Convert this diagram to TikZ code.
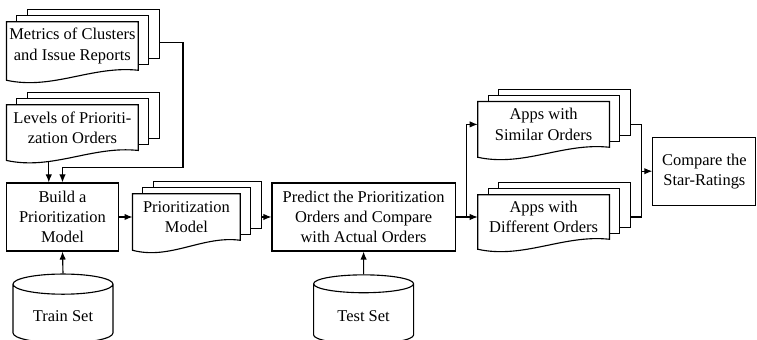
\documentclass[tikz,border=0pt]{standalone}
\usepackage{fontspec}
\setmainfont{Liberation Serif}
\usetikzlibrary{shapes.geometric, arrows.meta, positioning, calc, backgrounds}
\tikzset{
    % Box styles
    process/.style={
        rectangle,
        draw=black,
        fill=white,
        line width=0.8pt,
        minimum width=2.78cm,
        minimum height=1.7cm,
        align=center,
        inner sep=1pt
    },
    docpage/.style={
        rectangle,
        draw=none,
        minimum width=3.28cm,
        minimum height=1.13cm,
        align=center,
        inner sep=1pt
    },
    docline/.style={
        line width=0.8pt,
        draw=black,
        fill=white
    },
    database/.style={
        cylinder,
        shape border rotate=90,
        draw=black,
        line width=0.8pt,
        aspect=0.29,
        minimum width=2.5cm,
        minimum height=1.725cm,
        align=center
    },
    % Arrow styles
    arrow/.style={
        ->,
        >={Latex[length=2mm, width=1.6mm]},
        line width=0.8pt,
        draw=black
    },
    plainline/.style={
        line width=0.8pt,
        draw=black
    }
}
% stack of pages behind a document node, wavy bottom on the front page
\newcommand{\docstack}[1]{%
    \begin{scope}[on background layer]
        \foreach \k in {2,1}
            \draw[docline] ([shift={(\k*0.26,\k*0.15)}]#1.south west) rectangle ([shift={(\k*0.26,\k*0.15)}]#1.north east);
        \draw[docline] (#1.north west) -- (#1.north east) -- (#1.south east)
            .. controls ($(#1.south east)!0.35!(#1.south west)+(0,0.125)$) and ($(#1.south west)!0.35!(#1.south east)+(0,-0.5)$) .. ([yshift=-0.25cm]#1.south west) -- cycle;
    \end{scope}}

\begin{document}
\begin{tikzpicture}[font=\fontsize{11.7}{14.4}\selectfont]
    \useasboundingbox (0,0) rectangle (18.925,8.5);

    % Inputs
    \node[docpage, minimum height=1.2cm] (met) at (1.81,7.35) {Metrics of Clusters\\and Issue Reports};
    \docstack{met}
    \node[docpage] (lev) at (1.81,5.31) {Levels of Prioriti-\\zation Orders};
    \docstack{lev}

    % Training
    \node[process] (build) at (1.5625,3.075) {Build a\\Prioritization\\Model};
    \node[database] (train) at (1.575,0.6) {Train Set};
    \node[docpage, minimum width=2.68cm, minimum height=1.15cm] (prio) at (4.66,3.075) {Prioritization\\Model};
    \docstack{prio}

    % Testing
    \node[process, minimum width=4.58cm] (pred) at (9.09,3.075) {Predict the Prioritization\\Orders and Compare\\with Actual Orders};
    \node[database] (test) at (9.09,0.6) {Test Set};

    % Groups of apps
    \node[docpage] (apps) at (13.59,5.39) {Apps with\\Similar Orders};
    \docstack{apps}
    \node[docpage, minimum height=1.1cm] (appd) at (13.59,3.075) {Apps with\\Different Orders};
    \docstack{appd}
    \node[process, minimum width=2.575cm] (cmp) at (17.61,4.22) {Compare the\\Star-Ratings};

    % Connectors
    \coordinate (levout) at ([shift={(-0.59,-0.27)}]lev.south);
    \draw[arrow] (levout) -- (levout |- build.north);
    \draw[arrow] ([shift={(0.52,0.08)}]met.east) -| ($(build.north)+(3.0125,0.375)$) -| (build.north);
    \draw[arrow] (train.north) -- (build.south);
    \draw[arrow] (build.east) -- (prio.west |- build.east);
    \draw[arrow] ([xshift=0.52cm]prio.east |- pred.west) -- (pred.west);
    \draw[arrow] (test.north) -- (pred.south);
    \draw[arrow] (pred.east) -- (appd.west |- pred.east);
    \draw[arrow] ([xshift=0.27cm]pred.east) |- (apps.west);
    \draw[plainline] ([xshift=0.52cm]apps.east) -| ([xshift=-0.27cm]cmp.west);
    \draw[plainline] ([xshift=0.52cm]appd.east) -| ([xshift=-0.27cm]cmp.west);
    \draw[arrow] ([xshift=-0.27cm]cmp.west) -- (cmp.west);
\end{tikzpicture}
\end{document}
